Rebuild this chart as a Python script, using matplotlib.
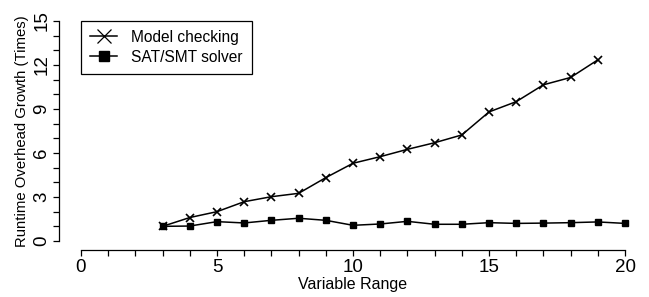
import matplotlib
matplotlib.use("Agg")
import matplotlib.pyplot as plt
import numpy as np

plt.rcParams['font.family'] = ['Liberation Sans', 'DejaVu Sans']

# data
var_range = [3, 4, 5, 6, 7, 8, 9, 10, 11, 12, 13, 14, 15, 16, 17, 18, 19, 20]
model_checking = [1.0, 1.6, 2.0, 2.68, 3.02, 3.25, 4.32, 5.3, 5.75, 6.25, 6.7,
                  7.23, 8.8, 9.5, 10.65, 11.15, 12.35]
sat_smt = [1.0, 1.02, 1.32, 1.23, 1.41, 1.55, 1.41, 1.07, 1.16, 1.34, 1.14,
           1.14, 1.25, 1.2, 1.22, 1.25, 1.3, 1.2]

W, H = 649, 297
fig = plt.figure(figsize=(W / 100, H / 100), dpi=100)
ax = fig.add_axes([81 / W, (H - 241) / H, (625 - 81) / W, (241 - 21) / H])

ax.plot(var_range[:len(model_checking)], model_checking, color='black', lw=1.1,
        marker='x', ms=6.2, mew=1.2, clip_on=False, label='Model checking')
ax.plot(var_range, sat_smt, color='black', lw=1.1,
        marker='s', ms=4.4, clip_on=False, label='SAT/SMT solver')

ax.set_xlim(0, 20)
ax.set_ylim(0, 15)

# R style detached axes
for s in ['top', 'right']:
    ax.spines[s].set_visible(False)
ax.spines['left'].set_position(('outward', 22 * 0.72))
ax.spines['bottom'].set_position(('outward', 9 * 0.72))
ax.spines['left'].set_bounds(0, 15)
ax.spines['bottom'].set_bounds(0, 20)
ax.spines['left'].set_linewidth(0.9)
ax.spines['bottom'].set_linewidth(0.9)

ax.set_xticks(np.arange(0, 21, 5))
ax.set_xticks(np.arange(0, 21, 1), minor=True)
ax.set_yticks(np.arange(0, 16, 3))
ax.set_yticks(np.arange(0, 16, 1), minor=True)
ax.tick_params(which='both', direction='out', length=4.3, width=0.9)
ax.tick_params(axis='x', labelsize=13.5, pad=2)
ax.tick_params(axis='y', labelsize=13.5, pad=2)
for lab in ax.get_yticklabels():
    lab.set_rotation(90)
    lab.set_va('center')

ax.set_xlabel('Variable Range', fontsize=11.5, labelpad=1)
ax.set_ylabel('Runtime Overhead Growth (Times)', fontsize=10.7, labelpad=3)

leg = ax.legend(loc='upper left', bbox_to_anchor=(0, 1.0), borderaxespad=0,
                fontsize=11.2, markerscale=1.6, handlelength=1.7,
                handletextpad=0.9, handleheight=0.9, borderpad=0.6,
                labelspacing=0.3, fancybox=False, framealpha=1,
                edgecolor='black')
leg.get_frame().set_linewidth(0.9)
leg.legend_handles[0].set_markeredgewidth(0.9)

fig.savefig('out.png', dpi=100)
